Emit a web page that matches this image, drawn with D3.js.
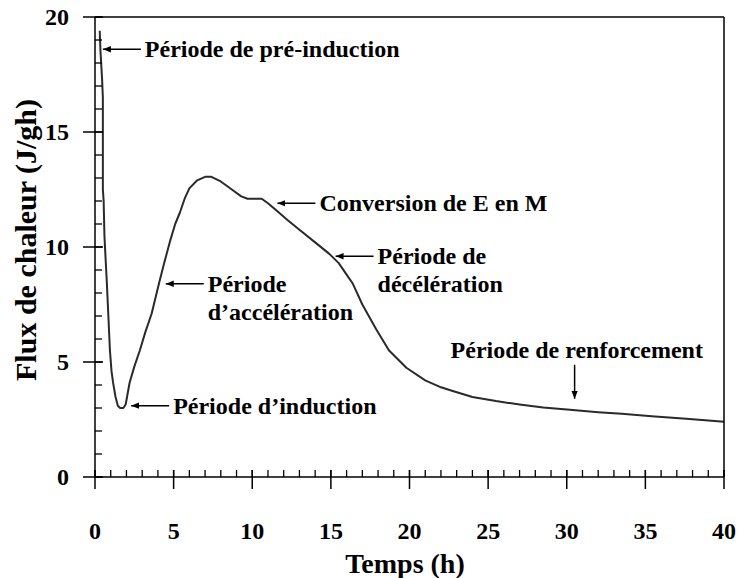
<!DOCTYPE html>
<html>
<head>
<meta charset="utf-8">
<script src="https://cdn.jsdelivr.net/npm/d3@7"></script>
<style>
  html, body { margin: 0; padding: 0; background: #fff; font-family: "Liberation Serif"; }
</style>
</head>
<body>
<svg id="chart" width="739" height="578" font-family="Liberation Serif" font-weight="bold"></svg>
<script>
// ---- data ----
const timeHours = [0.30,0.35,0.45,0.50,0.50,0.55,0.60,0.65,0.75,0.85,0.95,1.05,1.15,1.30,1.45,1.60,1.80,1.95,2.20,2.50,2.85,3.20,3.60,4.10,4.40,4.75,5.10,5.40,5.70,6.00,6.50,7.00,7.40,8.00,8.70,9.30,9.70,10.60,11.00,11.60,12.20,13.00,14.00,14.90,15.50,16.00,16.40,17.00,17.90,18.70,19.80,21.00,22.00,22.70,24.00,25.50,27.00,28.50,30.20,32.00,33.50,35.40,37.60,40.00];
const heatFlux  = [19.4,18.5,17.3,16.5,12.5,12.0,10.5,9.8,8.5,7.0,5.5,4.6,4.1,3.5,3.1,3.0,3.0,3.15,4.1,4.8,5.5,6.3,7.1,8.5,9.3,10.2,11.0,11.5,12.1,12.55,12.9,13.05,13.05,12.85,12.5,12.2,12.1,12.1,11.9,11.55,11.2,10.75,10.2,9.7,9.3,8.8,8.4,7.5,6.4,5.5,4.75,4.2,3.9,3.75,3.48,3.3,3.15,3.02,2.92,2.82,2.75,2.64,2.53,2.4];
const xTickLabels = [0,5,10,15,20,25,30,35,40];
const yTickLabels = [0,5,10,15,20];
const xMinorTicks = d3.range(0, 41, 1);
const yMinorTicks = d3.range(0, 21, 1);
const xTitle = "Temps (h)";
const yTitle = "Flux de chaleur (J/gh)";
// annotations: label lines, time and value of arrow tip
const annotLabels = [
  ["Période de pré-induction"],
  ["Conversion de E en M"],
  ["Période de", "décélération"],
  ["Période", "d’accélération"],
  ["Période d’induction"],
  ["Période de renforcement"]
];
const annotTipTime  = [0.5, 11.6, 15.3, 4.5, 2.3, 30.5];
const annotTipValue = [18.6, 11.9, 9.6, 8.4, 3.1, 3.4];

// ---- layout ----
const svg = d3.select("#chart");
const x = d3.scaleLinear().domain([0, 40]).range([95, 724]);
const y = d3.scaleLinear().domain([0, 20]).range([477, 17]);
const ink = "#000";

function txt(sel) {
  return sel.style("font-family", '"Liberation Serif"').attr("font-weight", "bold");
}
function ln(x1, y1, x2, y2, w) {
  return svg.append("line").attr("x1", x1).attr("y1", y1).attr("x2", x2).attr("y2", y2)
    .attr("stroke", ink).attr("stroke-width", w || 1.5);
}

// curve
const pts = timeHours.map((t, i) => [t, heatFlux[i]]);
svg.append("path").datum(pts)
  .attr("fill", "none").attr("stroke", "#2a2a2a").attr("stroke-width", 2)
  .attr("stroke-linejoin", "round")
  .attr("d", d3.line().x(d => x(d[0])).y(d => y(d[1])));

// frame and axes
ln(x(0), y(20), x(40), y(20));
ln(x(40), y(20), x(40), y(0));
ln(x(0), y(0), x(40), y(0));
ln(x(0), y(0), x(0), y(20));

// ticks
xMinorTicks.forEach(d => ln(x(d), y(0), x(d), y(0) - 7, 1.3));
xTickLabels.forEach(d => ln(x(d), y(0) - 7, x(d), y(0) + 12));
yMinorTicks.forEach(d => ln(x(0), y(d), x(0) + 7, y(d), 1.3));
yTickLabels.forEach(d => ln(x(0) - 12, y(d), x(0) + 8, y(d)));

// tick labels
xTickLabels.forEach(d => {
  txt(svg.append("text")).attr("x", x(d)).attr("y", 539)
    .attr("text-anchor", "middle").attr("font-size", 24).text(d);
});
yTickLabels.forEach(d => {
  txt(svg.append("text")).attr("x", 69).attr("y", y(d) + 8)
    .attr("text-anchor", "end").attr("font-size", 24).text(d);
});

// titles
txt(svg.append("text")).attr("x", 405).attr("y", 573).attr("text-anchor", "middle").attr("font-size", 28).text(xTitle);
txt(svg.append("text")).attr("transform", "translate(36,240) rotate(-90)").attr("text-anchor", "middle").attr("font-size", 30).text(yTitle);

// arrowhead marker
svg.append("defs").append("marker")
  .attr("id", "ah").attr("viewBox", "0 0 10 10").attr("refX", 10).attr("refY", 5)
  .attr("markerWidth", 8).attr("markerHeight", 8).attr("markerUnits", "userSpaceOnUse")
  .attr("orient", "auto")
  .append("path").attr("d", "M0,1 L10,5 L0,9 Z").attr("fill", ink);

// annotations
const fs = 24;
annotLabels.forEach((lines, i) => {
  const tx = x(annotTipTime[i]), ty = y(annotTipValue[i]);
  if (i === 5) {
    ln(tx, ty - 34, tx, ty).attr("marker-end", "url(#ah)");
    txt(svg.append("text")).attr("x", tx - 124).attr("y", ty - 41).attr("font-size", fs).text(lines[0]);
  } else {
    const len = 38;
    ln(tx + len, ty, tx, ty).attr("marker-end", "url(#ah)");
    lines.forEach((s, j) => {
      txt(svg.append("text")).attr("x", tx + len + 4).attr("y", ty + 8 + j * 28)
        .attr("font-size", fs).text(s);
    });
  }
});

// re-apply the serif face after any late style changes
setTimeout(() => {
  svg.selectAll("text").style("font-family", '"Liberation Serif"').attr("font-weight", "bold");
}, 0);
</script>
</body>
</html>
